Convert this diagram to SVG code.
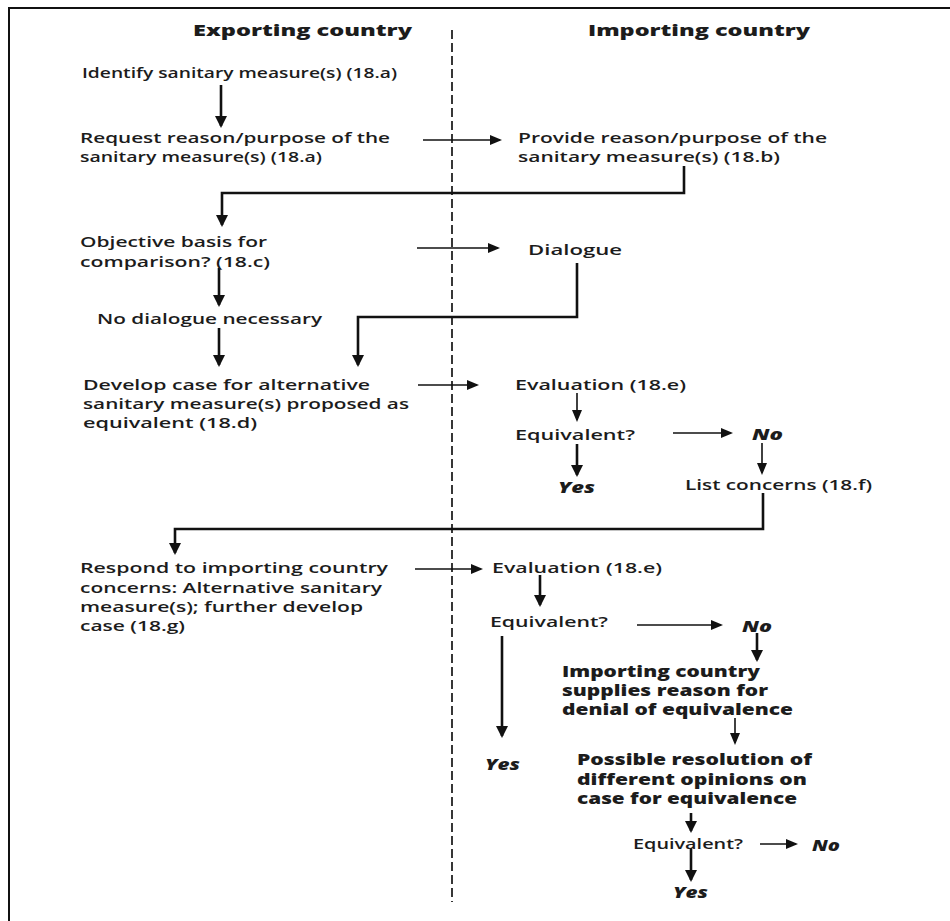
<svg xmlns="http://www.w3.org/2000/svg" width="950" height="921" viewBox="0 0 950 921">
  <style>
    text { font-family: "Open Sans", "DejaVu Sans", sans-serif; fill: #1c1c1c; }
    .hd { font-size: 16px; font-weight: 800; }
    .t { font-size: 15px; font-weight: 600; }
    .b { font-size: 15px; font-weight: 800; }
    .yn { font-size: 16px; font-weight: 800; font-style: italic; }
    .w { stroke: #111; fill: none; stroke-width: 2.6; }
    .n { stroke: #111; fill: none; stroke-width: 1.6; }
  </style>
  <defs>
    <marker id="ah" viewBox="0 0 12 12" markerWidth="12" markerHeight="12" refX="10" refY="6" orient="auto" markerUnits="userSpaceOnUse">
      <path d="M0,0 L12,6 L0,12 z" fill="#111"/>
    </marker>
    <marker id="ahs" viewBox="0 0 12 10" markerWidth="12" markerHeight="10" refX="10" refY="5" orient="auto" markerUnits="userSpaceOnUse">
      <path d="M0,0 L12,5 L0,10 z" fill="#111"/>
    </marker>
  </defs>

  <rect width="950" height="921" fill="#fff"/>

  <!-- frame: top and left edges -->
  <g id="frame" stroke="#111" stroke-width="2" fill="none">
    <path d="M9,921 V8 H950"/>
  </g>

  <!-- column divider -->
  <line id="divider" x1="452" y1="30" x2="452" y2="902" stroke="#222" stroke-width="1.8" stroke-dasharray="9 4"/>

  <g id="headers">
    <text class="hd" x="193" y="36" textLength="219" lengthAdjust="spacingAndGlyphs">Exporting country</text>
    <text class="hd" x="588" y="36" textLength="222" lengthAdjust="spacingAndGlyphs">Importing country</text>
  </g>

  <g id="connectors">
    <path class="w" d="M221,85 V126" marker-end="url(#ah)"/>
    <path class="n" d="M423,140 H500" marker-end="url(#ahs)"/>
    <path class="w" d="M684,166 V193 H222 V225" marker-end="url(#ah)"/>
    <path class="n" d="M417,248 H498" marker-end="url(#ahs)"/>
    <path class="w" d="M219,268 V305" marker-end="url(#ah)"/>
    <path class="w" d="M577,263 V317 H358 V365" marker-end="url(#ah)"/>
    <path class="w" d="M219,328 V365" marker-end="url(#ah)"/>
    <path class="n" d="M418,385 H477" marker-end="url(#ahs)"/>
    <path class="n" d="M577,393 V420" marker-end="url(#ahs)"/>
    <path class="n" d="M673,433 H731" marker-end="url(#ahs)"/>
    <path class="w" d="M577,444 V475" marker-end="url(#ah)"/>
    <path class="n" d="M762,443 V473" marker-end="url(#ahs)"/>
    <path class="w" d="M763,493 V529 H175 V553" marker-end="url(#ah)"/>
    <path class="n" d="M415,569 H481" marker-end="url(#ahs)"/>
    <path class="w" d="M540,575 V605" marker-end="url(#ah)"/>
    <path class="n" d="M637,625 H721" marker-end="url(#ahs)"/>
    <path class="w" d="M757,633 V660" marker-end="url(#ah)"/>
    <path class="w" d="M502,636 V736" marker-end="url(#ah)"/>
    <path class="n" d="M735,718 V743" marker-end="url(#ahs)"/>
    <path class="w" d="M691,813 V831" marker-end="url(#ah)"/>
    <path class="n" d="M760,844 H796" marker-end="url(#ahs)"/>
    <path class="w" d="M691,848 V880" marker-end="url(#ah)"/>
  </g>

  <g id="identify">
    <text class="t" x="82" y="78" textLength="315" lengthAdjust="spacingAndGlyphs">Identify sanitary measure(s) (18.a)</text>
  </g>
  <g id="request">
    <text class="t" x="80" y="143" textLength="310" lengthAdjust="spacingAndGlyphs">Request reason/purpose of the</text>
    <text class="t" x="80" y="162" textLength="242" lengthAdjust="spacingAndGlyphs">sanitary measure(s) (18.a)</text>
  </g>
  <g id="provide">
    <text class="t" x="518" y="143" textLength="309" lengthAdjust="spacingAndGlyphs">Provide reason/purpose of the</text>
    <text class="t" x="518" y="162" textLength="262" lengthAdjust="spacingAndGlyphs">sanitary measure(s) (18.b)</text>
  </g>
  <g id="objective">
    <text class="t" x="80" y="247" textLength="187" lengthAdjust="spacingAndGlyphs">Objective basis for</text>
    <text class="t" x="80" y="267" textLength="190" lengthAdjust="spacingAndGlyphs">comparison? (18.c)</text>
  </g>
  <g id="dialogue">
    <text class="t" x="528" y="255" textLength="94" lengthAdjust="spacingAndGlyphs">Dialogue</text>
  </g>
  <g id="no-dialogue">
    <text class="t" x="97" y="324" textLength="225" lengthAdjust="spacingAndGlyphs">No dialogue necessary</text>
  </g>
  <g id="develop">
    <text class="t" x="83" y="390" textLength="287" lengthAdjust="spacingAndGlyphs">Develop case for alternative</text>
    <text class="t" x="83" y="409" textLength="326" lengthAdjust="spacingAndGlyphs">sanitary measure(s) proposed as</text>
    <text class="t" x="83" y="428" textLength="174" lengthAdjust="spacingAndGlyphs">equivalent (18.d)</text>
  </g>
  <g id="evaluation-1">
    <text class="t" x="515" y="390" textLength="171" lengthAdjust="spacingAndGlyphs">Evaluation (18.e)</text>
  </g>
  <g id="equivalent-1">
    <text class="t" x="515" y="440" textLength="120" lengthAdjust="spacingAndGlyphs">Equivalent?</text>
  </g>
  <g id="no-1">
    <text class="yn" x="752" y="440" textLength="31" lengthAdjust="spacingAndGlyphs">No</text>
  </g>
  <g id="yes-1">
    <text class="yn" x="558" y="493" textLength="37" lengthAdjust="spacingAndGlyphs">Yes</text>
  </g>
  <g id="list-concerns">
    <text class="t" x="685" y="490" textLength="187" lengthAdjust="spacingAndGlyphs">List concerns (18.f)</text>
  </g>
  <g id="respond">
    <text class="t" x="80" y="573" textLength="308" lengthAdjust="spacingAndGlyphs">Respond to importing country</text>
    <text class="t" x="80" y="593" textLength="302" lengthAdjust="spacingAndGlyphs">concerns: Alternative sanitary</text>
    <text class="t" x="80" y="612" textLength="283" lengthAdjust="spacingAndGlyphs">measure(s); further develop</text>
    <text class="t" x="80" y="631" textLength="105" lengthAdjust="spacingAndGlyphs">case (18.g)</text>
  </g>
  <g id="evaluation-2">
    <text class="t" x="492" y="573" textLength="170" lengthAdjust="spacingAndGlyphs">Evaluation (18.e)</text>
  </g>
  <g id="equivalent-2">
    <text class="t" x="490" y="627" textLength="118" lengthAdjust="spacingAndGlyphs">Equivalent?</text>
  </g>
  <g id="no-2">
    <text class="yn" x="742" y="632" textLength="30" lengthAdjust="spacingAndGlyphs">No</text>
  </g>
  <g id="yes-2">
    <text class="yn" x="485" y="770" textLength="35" lengthAdjust="spacingAndGlyphs">Yes</text>
  </g>
  <g id="denial">
    <text class="b" x="562" y="677" textLength="198" lengthAdjust="spacingAndGlyphs">Importing country</text>
    <text class="b" x="562" y="696" textLength="206" lengthAdjust="spacingAndGlyphs">supplies reason for</text>
    <text class="b" x="562" y="715" textLength="231" lengthAdjust="spacingAndGlyphs">denial of equivalence</text>
  </g>
  <g id="resolution">
    <text class="b" x="577" y="765" textLength="235" lengthAdjust="spacingAndGlyphs">Possible resolution of</text>
    <text class="b" x="577" y="785" textLength="230" lengthAdjust="spacingAndGlyphs">different opinions on</text>
    <text class="b" x="577" y="804" textLength="220" lengthAdjust="spacingAndGlyphs">case for equivalence</text>
  </g>
  <g id="equivalent-3">
    <text class="t" x="633" y="849" textLength="110" lengthAdjust="spacingAndGlyphs">Equivalent?</text>
  </g>
  <g id="no-3">
    <text class="yn" x="812" y="851" textLength="28" lengthAdjust="spacingAndGlyphs">No</text>
  </g>
  <g id="yes-3">
    <text class="yn" x="673" y="898" textLength="35" lengthAdjust="spacingAndGlyphs">Yes</text>
  </g>
</svg>
